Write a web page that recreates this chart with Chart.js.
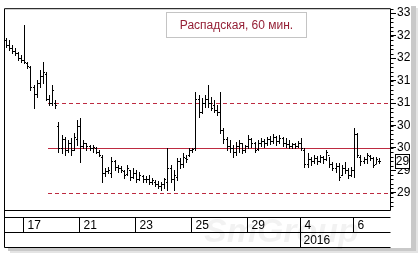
<!DOCTYPE html>
<html>
<head>
<meta charset="utf-8">
<script src="https://cdn.jsdelivr.net/npm/chart.js@4.4.1/dist/chart.umd.min.js"></script>
<style>
  html, body { margin: 0; padding: 0; background: #fff; }
  #wrap { position: relative; width: 419px; height: 253px; }
</style>
</head>
<body>
<div id="wrap"><canvas id="chart" width="419" height="253"></canvas></div>
<script>
// --- data: hourly bars, 16.12.2015 - 06.01.2016 ---
const days = ['16', '17', '18', '21', '22', '23', '24', '25', '28', '29', '30', '4', '5', '6'];
const barsPerDay = [6, 9, 9, 9, 9, 9, 9, 9, 9, 9, 8, 9, 8, 9];
const labeledDays = ['17', '21', '23', '25', '29', '4', '6'];
const yearStartDay = '4';
const yearLabel = '2016';
const emptySlots = 3;

const highs = [32.44,32.40,32.29,32.22,32.13,32.07,32.73,31.91,31.82,31.40,
  31.51,31.73,31.91,31.69,31.18,31.40,31.07,30.58,30.29,30.24,
  30.18,30.22,30.33,30.62,30.67,30.18,30.11,30.07,30.07,30.02,
  29.96,29.84,29.56,29.58,29.80,29.73,29.62,29.60,29.51,29.62,
  29.51,29.56,29.51,29.47,29.40,29.38,29.40,29.33,29.29,29.27,
  29.24,29.33,30.00,29.62,29.51,29.78,29.78,29.89,29.84,30.00,
  30.00,31.24,31.18,31.11,31.18,31.40,31.13,31.07,30.96,31.24,
  30.44,30.24,30.18,30.07,30.13,30.18,30.11,30.07,30.29,30.22,
  30.13,30.18,30.22,30.20,30.24,30.27,30.31,30.27,30.29,30.24,
  30.22,30.18,30.11,30.11,30.16,30.22,30.00,29.89,29.80,29.84,
  29.82,29.84,29.82,29.96,29.80,29.69,29.67,29.67,29.62,29.69,
  29.56,29.58,30.44,30.33,29.84,29.80,29.89,29.84,29.80,29.80,
  29.78];
const lows = [32.24,32.18,32.11,32.07,31.96,31.91,31.89,31.78,31.29,30.89,
  31.13,31.36,31.44,31.07,30.96,30.96,30.89,29.91,29.89,29.84,
  29.91,29.84,29.96,30.07,29.69,30.00,29.96,29.96,29.91,29.89,
  29.82,29.24,29.38,29.44,29.36,29.51,29.47,29.47,29.33,29.40,
  29.29,29.33,29.24,29.29,29.24,29.24,29.20,29.20,29.16,29.11,
  29.07,29.11,29.07,29.24,29.07,29.29,29.56,29.58,29.69,29.82,
  29.91,29.96,30.69,30.78,30.91,30.91,30.84,30.80,30.73,30.33,
  30.11,29.96,29.91,29.80,29.84,29.91,29.89,29.91,30.00,30.02,
  29.91,29.96,30.04,30.02,30.07,30.09,30.11,30.07,30.11,30.04,
  30.02,30.00,30.00,30.00,30.02,29.96,29.58,29.58,29.62,29.67,
  29.64,29.69,29.67,29.73,29.58,29.51,29.47,29.29,29.40,29.44,
  29.33,29.38,29.36,29.80,29.62,29.67,29.67,29.73,29.58,29.67,
  29.67];
const opens = [32.40,32.30,32.22,32.15,32.12,32.00,31.95,31.90,31.80,31.35,
  31.20,31.45,31.60,31.65,31.10,31.00,31.00,30.50,30.00,30.20,
  29.95,30.10,29.95,30.20,30.50,30.05,30.10,30.05,30.00,30.00,
  29.92,29.80,29.45,29.48,29.45,29.70,29.58,29.55,29.48,29.42,
  29.50,29.35,29.45,29.32,29.38,29.30,29.32,29.25,29.25,29.20,
  29.15,29.20,29.25,29.55,29.30,29.35,29.70,29.65,29.78,29.85,
  29.95,30.00,31.10,30.80,31.00,31.10,31.00,30.95,30.85,30.80,
  30.40,30.20,30.05,30.00,29.90,30.05,30.10,29.95,30.05,30.20,
  30.10,29.98,30.10,30.15,30.10,30.20,30.15,30.25,30.15,30.22,
  30.10,30.08,30.05,30.08,30.05,30.10,29.95,29.65,29.75,29.70,
  29.78,29.72,29.80,29.75,29.85,29.65,29.55,29.60,29.40,29.55,
  29.50,29.40,29.50,30.30,29.80,29.70,29.75,29.82,29.78,29.65,
  29.72];
const closes = [32.30,32.22,32.15,32.12,32.00,31.95,31.92,31.82,31.35,31.20,
  31.45,31.60,31.70,31.10,31.00,31.30,30.95,30.00,30.20,29.95,
  30.10,29.95,30.25,30.50,30.05,30.10,30.05,30.00,30.02,29.92,
  29.85,29.45,29.48,29.50,29.70,29.58,29.55,29.50,29.40,29.55,
  29.35,29.45,29.30,29.40,29.30,29.32,29.25,29.28,29.20,29.15,
  29.20,29.30,29.55,29.30,29.40,29.70,29.65,29.80,29.75,29.95,
  29.98,31.10,30.80,31.00,31.10,31.00,30.90,30.85,30.80,30.40,
  30.20,30.05,30.00,29.90,30.05,30.10,29.95,30.05,30.20,30.10,
  29.95,30.10,30.15,30.10,30.20,30.15,30.25,30.15,30.22,30.10,
  30.08,30.05,30.08,30.05,30.10,30.00,29.65,29.75,29.70,29.78,
  29.72,29.80,29.75,29.90,29.65,29.55,29.60,29.35,29.55,29.50,
  29.40,29.50,30.30,29.85,29.70,29.75,29.85,29.78,29.62,29.75,
  29.70];

// horizontal levels
const levels = [31, 30, 29];
const levelDashed = [true, false, true];
const levelStartIndex = 14;

const titleText = 'Распадская, 60 мин.';

// категории: один слот на бар, пустые в конце
const labels = [];
const dayStartIndex = {};
days.forEach((d, k) => {
  dayStartIndex[d] = labels.length;
  for (let h = 0; h < barsPerDay[k]; h++) labels.push(d + ' ' + (10 + h) + ':00');
});
for (let e = 0; e < emptySlots; e++) labels.push('');

const ranges = lows.map((l, i) => [l, highs[i]]);

const FONT = '"Liberation Sans Narrow", "Arial Narrow", "Liberation Sans", Arial, sans-serif';
const LEVEL_COLOR = '#bd2a40';

// --- plugins ---
const backgroundPlugin = {
  id: 'background',
  beforeDraw(chart) {
    const ctx = chart.ctx;
    ctx.save();
    ctx.fillStyle = '#fff';
    ctx.fillRect(0, 0, chart.width, chart.height);
    // тень справа и снизу
    ctx.fillStyle = '#c9c9c9';
    ctx.fillRect(411, 6, 5, 245);
    ctx.fillRect(8, 248, 408, 3);
    ctx.fillStyle = '#e4e4e4';
    ctx.fillRect(416, 8, 2, 244);
    ctx.fillRect(10, 251, 408, 2);
    ctx.restore();
  }
};

const levelsPlugin = {
  id: 'levels',
  beforeDatasetsDraw(chart) {
    const { ctx, chartArea, scales: { x, y } } = chart;
    const slot = x.getPixelForValue(1) - x.getPixelForValue(0);
    const x0 = Math.round(x.getPixelForValue(levelStartIndex) - slot / 2);
    ctx.save();
    ctx.strokeStyle = LEVEL_COLOR;
    ctx.lineWidth = 1;
    levels.forEach((lv, k) => {
      const py = Math.round(y.getPixelForValue(lv)) + 0.5;
      ctx.setLineDash(levelDashed[k] ? [4, 3] : []);
      ctx.beginPath();
      ctx.moveTo(x0, py);
      ctx.lineTo(chartArea.right, py);
      ctx.stroke();
    });
    ctx.restore();
  }
};

const ohlcPlugin = {
  id: 'ohlc',
  afterDatasetsDraw(chart) {
    const { ctx, scales: { x, y } } = chart;
    ctx.save();
    ctx.strokeStyle = '#000';
    ctx.lineWidth = 1;
    ctx.beginPath();
    highs.forEach((h, i) => {
      const px = Math.round(x.getPixelForValue(i)) + 0.5;
      const yh = Math.round(y.getPixelForValue(h));
      const yl = Math.round(y.getPixelForValue(lows[i]));
      const yo = Math.round(y.getPixelForValue(opens[i])) + 0.5;
      const yc = Math.round(y.getPixelForValue(closes[i])) + 0.5;
      ctx.moveTo(px, yh);
      ctx.lineTo(px, yl + 1);
      ctx.moveTo(px - 1.5, yo);
      ctx.lineTo(px, yo);
      ctx.moveTo(px, yc);
      ctx.lineTo(px + 1.5, yc);
    });
    ctx.stroke();
    ctx.restore();
  }
};

const framePlugin = {
  id: 'frame',
  afterDraw(chart) {
    const { ctx, chartArea, scales: { x, y } } = chart;
    const L = chartArea.left + 0.5, R = chartArea.right + 0.5;
    const T = chartArea.top + 0.5, B = chartArea.bottom + 0.5;
    const row1 = B + 7, row2 = row1 + 15, row3 = row2 + 15;
    const slot = x.getPixelForValue(1) - x.getPixelForValue(0);
    ctx.save();
    ctx.strokeStyle = '#000';
    ctx.lineWidth = 1;
    ctx.beginPath();
    ctx.moveTo(L, T); ctx.lineTo(R, T); ctx.lineTo(R, B); ctx.lineTo(L, B);
    ctx.moveTo(L, T); ctx.lineTo(L, row3);
    [row1, row2, row3].forEach(r => { ctx.moveTo(L, r); ctx.lineTo(R, r); });
    ctx.stroke();

    // минорные деления оси цен
    ctx.beginPath();
    const minorStep = 0.1;
    for (let v = Math.ceil(y.min / minorStep) * minorStep; v <= y.max; v += minorStep) {
      const py = Math.round(y.getPixelForValue(v)) + 0.5;
      ctx.moveTo(R, py); ctx.lineTo(R + 3, py);
    }
    ctx.stroke();

    // полоса дат
    ctx.fillStyle = '#000';
    ctx.font = '12px ' + FONT;
    ctx.textBaseline = 'middle';
    ctx.textAlign = 'left';
    ctx.beginPath();
    labeledDays.forEach(d => {
      const bx = Math.round(x.getPixelForValue(dayStartIndex[d]) - slot / 2) + 0.5;
      ctx.moveTo(bx, row1); ctx.lineTo(bx, row2);
      ctx.fillText(d, bx + 4, row1 + 8);
    });
    const yx = Math.round(x.getPixelForValue(dayStartIndex[yearStartDay]) - slot / 2) + 0.5;
    ctx.moveTo(yx, row2); ctx.lineTo(yx, row3);
    ctx.stroke();
    ctx.fillText(yearLabel, yx + 3, row2 + 8);

    // водяной знак
    ctx.font = 'italic bold 34px "Liberation Sans", Arial, sans-serif';
    ctx.fillStyle = 'rgba(0,0,0,0.05)';
    ctx.fillText('SmGroup', 204, 233);

    // метка последней цены
    const last = closes[closes.length - 1];
    const ly = Math.round(y.getPixelForValue(last));
    ctx.fillStyle = '#fff';
    ctx.fillRect(R + 5, ly - 7, 14, 14);
    ctx.strokeRect(R + 5, ly - 7 + 0.5, 14, 14);
    ctx.fillStyle = '#000';
    ctx.font = '12px ' + FONT;
    ctx.textAlign = 'center';
    ctx.fillText(String(Math.floor(last)), R + 12, ly + 1);

    // заголовок
    ctx.fillStyle = '#fff';
    ctx.fillRect(166, 12, 141, 26);
    ctx.strokeStyle = '#c4c4c4';
    ctx.strokeRect(166.5, 12.5, 140, 25);
    ctx.fillStyle = '#952036';
    ctx.font = '12px "Liberation Sans", Arial, sans-serif';
    ctx.textAlign = 'center';
    ctx.fillText(titleText, 236.5, 25.5);
    ctx.restore();
  }
};

new Chart(document.getElementById('chart'), {
  type: 'bar',
  data: {
    labels: labels,
    datasets: [{
      label: titleText,
      data: ranges,
      backgroundColor: 'rgba(0,0,0,0)',
      borderWidth: 0,
      barThickness: 1
    }]
  },
  options: {
    responsive: false,
    animation: false,
    devicePixelRatio: 1,
    layout: { padding: { left: 4, top: 8, right: 0, bottom: 43 } },
    plugins: {
      legend: { display: false },
      title: { display: false },
      tooltip: { enabled: false }
    },
    scales: {
      x: {
        display: false,
        offset: true
      },
      y: {
        position: 'right',
        min: 28.62,
        max: 33.11,
        afterFit(scale) { scale.width = 29; },
        border: { display: false },
        grid: {
          drawOnChartArea: false,
          drawTicks: true,
          tickLength: 6,
          tickColor: '#000',
          tickWidth: 1
        },
        ticks: {
          stepSize: 0.5,
          includeBounds: false,
          padding: 1,
          color: '#000',
          font: { size: 12, family: FONT },
          callback: v => String(Math.floor(v + 1e-9))
        }
      }
    }
  },
  plugins: [backgroundPlugin, levelsPlugin, ohlcPlugin, framePlugin]
});
</script>
</body>
</html>
